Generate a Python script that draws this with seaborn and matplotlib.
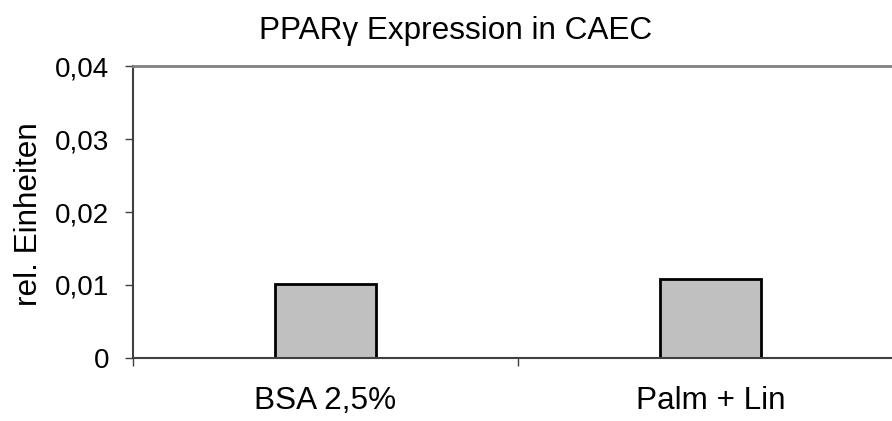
import matplotlib
matplotlib.use("Agg")
import matplotlib.pyplot as plt
import seaborn as sns
import pandas as pd
from matplotlib.ticker import FixedLocator, FuncFormatter

# Data
categories = ["BSA 2,5%", "Palm + Lin"]
values = [0.0101, 0.0108]
y_ticks = [0, 0.01, 0.02, 0.03, 0.04]
y_tick_labels = ["0", "0,01", "0,02", "0,03", "0,04"]

sns.set_theme(style="white")
plt.rcParams["font.family"] = ["Liberation Sans", "DejaVu Sans"]
plt.rcParams["text.color"] = "black"
plt.rcParams["xtick.color"] = "black"
plt.rcParams["ytick.color"] = "black"
plt.rcParams["axes.labelcolor"] = "black"

df = pd.DataFrame({"Gruppe": categories, "Wert": values})

W, H = 892, 421
fig = plt.figure(figsize=(W / 100, H / 100), dpi=100)
ax = fig.add_axes([133 / W, (H - 358) / H, 770 / W, 292 / H])

sns.barplot(data=df, x="Gruppe", y="Wert", color="#c0c0c0", width=0.26,
            edgecolor="black", linewidth=2, saturation=1, ax=ax)

ax.set_xlim(-0.5, 1.5)
ax.set_ylim(0, 0.04)

# y axis
ax.yaxis.set_major_locator(FixedLocator(y_ticks))
ax.set_yticklabels(y_tick_labels)
ax.tick_params(axis="y", direction="out", length=6, width=1, color="#404040",
               labelsize=20, pad=11, left=True)

# x axis: tick marks between categories, labels at category centres
ax.xaxis.set_major_locator(FixedLocator([-0.5, 0.5, 1.5]))
ax.xaxis.set_major_formatter(FuncFormatter(lambda v, p: ""))
ax.xaxis.set_minor_locator(FixedLocator([0, 1]))
ax.set_xticklabels(categories, minor=True)
ax.tick_params(axis="x", which="major", direction="out", length=6, width=1,
               color="#404040", bottom=True)
ax.tick_params(axis="x", which="minor", length=0, labelsize=22.7, pad=20)

ax.set_xlabel("")
ax.set_ylabel("rel. Einheiten", fontsize=22.7)
ax.yaxis.set_label_coords((44 - 133) / 770, (358 - 214) / 292)

for side in ["left", "bottom"]:
    ax.spines[side].set_visible(True)
    ax.spines[side].set_color("#404040")
    ax.spines[side].set_linewidth(1.5)
ax.spines["top"].set_visible(True)
ax.spines["top"].set_color("#808080")
ax.spines["top"].set_linewidth(2)
ax.spines["right"].set_visible(False)

fig.text(456 / W, 1 - 39 / H, "PPARγ Expression in CAEC", fontsize=22.7,
         ha="center", va="baseline")

fig.savefig("out.png", dpi=100)
